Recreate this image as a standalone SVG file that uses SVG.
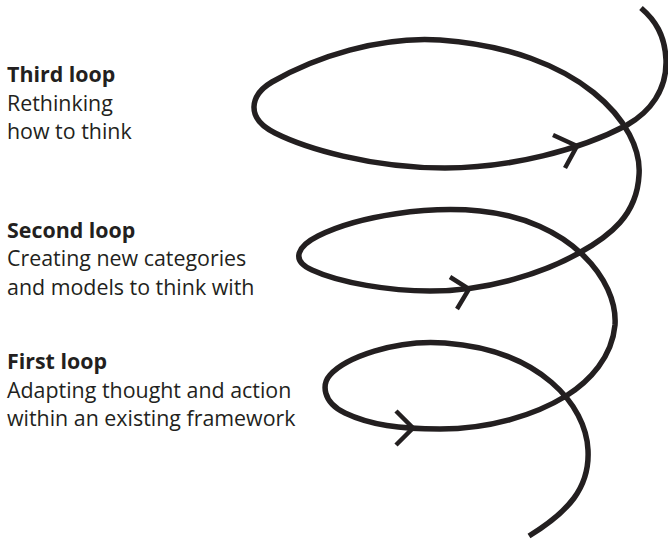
<svg xmlns="http://www.w3.org/2000/svg" width="668" height="539" viewBox="0 0 668 539">
  <style>
    .label { font-family: "Open Sans", "Noto Sans", "Liberation Sans", sans-serif; font-size: 21.4px; fill: #231f20; }
    .title { font-weight: bold; }
    .spiral { fill: none; stroke: #231f20; stroke-width: 5.5; stroke-linecap: butt; stroke-linejoin: round; }
    .chevron { fill: none; stroke: #231f20; stroke-width: 4.5; stroke-linecap: butt; stroke-linejoin: miter; }
  </style>
  <rect width="668" height="539" fill="#ffffff"/>

  <!-- three-turn spiral, drawn from the bottom tail up to the top end -->
  <g id="connectors">
    <path class="spiral" d="M 529 536
      C 568 512, 590 488, 588 450
      C 586 405, 540 350, 445 343
      C 395 339, 345 358, 330 375
      C 322 384, 322 402, 345 413
      C 370 425, 400 429, 440 429
      C 490 429, 535 415, 566 396
      C 590 381, 612 357, 615 325
      C 618 280, 570 220, 480 211
      C 430 206, 360 215, 318 236
      C 298 246, 290 260, 312 270
      C 340 283, 390 291, 430 291
      C 490 291, 545 272, 579 253
      C 610 236, 637 215, 639 175
      C 643 125, 580 50, 440 40
      C 380 36, 315 57, 272 82
      C 250 95, 245 118, 275 133
      C 305 148, 370 168, 445 168
      C 510 168, 580 150, 627 125
      C 650 112, 667 90, 666 60
      C 665 35, 655 20, 641 8"/>
    <!-- direction chevrons on the lower edge of each turn -->
    <path class="chevron" d="M 553 135 L 577 146 L 565 168"/>
    <path class="chevron" d="M 450 277 L 469 289 L 457 309"/>
    <path class="chevron" d="M 396 411 L 413 428 L 396 445"/>
  </g>

  <g id="third-loop">
    <text class="label title" x="7" y="82">Third loop</text>
    <text class="label" x="7" y="110.5">Rethinking</text>
    <text class="label" x="7" y="139">how to think</text>
  </g>

  <g id="second-loop">
    <text class="label title" x="7" y="238">Second loop</text>
    <text class="label" x="7" y="266">Creating new categories</text>
    <text class="label" x="7" y="294.5">and models to think with</text>
  </g>

  <g id="first-loop">
    <text class="label title" x="7" y="369">First loop</text>
    <text class="label" x="7" y="397.5">Adapting thought and action</text>
    <text class="label" x="7" y="426">within an existing framework</text>
  </g>
</svg>
